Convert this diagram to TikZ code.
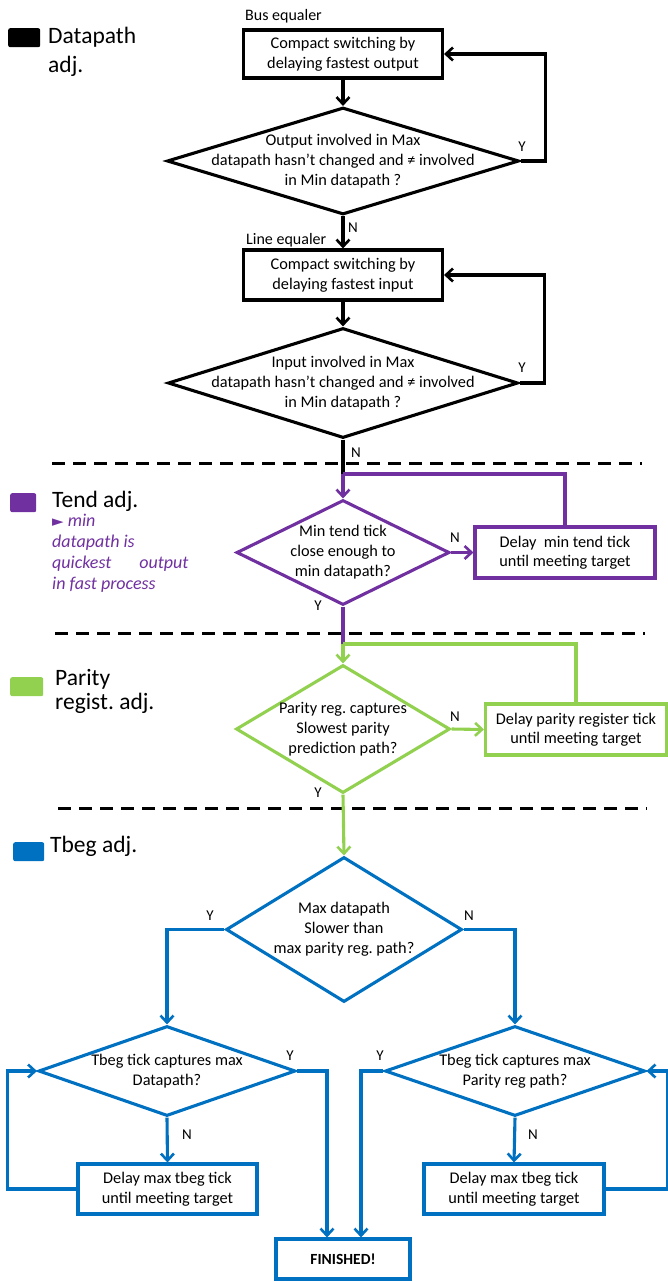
\documentclass[tikz,border=0pt]{standalone}
\usepackage{fontspec}
\setmainfont{Carlito}
\newfontfamily\symbfont{DejaVu Sans}
\usepackage{tikz}
\usetikzlibrary{shapes.geometric, arrows.meta, positioning}
\frenchspacing

\definecolor{tendpurple}{HTML}{7030A0}
\definecolor{paritygreen}{HTML}{92D050}
\definecolor{tbegblue}{HTML}{0070C0}

\begin{document}
\begin{tikzpicture}[
  x=1pt, y=-1pt,
  font=\fontsize{16.3}{19.5}\selectfont,
  box/.style      = {draw=#1, line width=3.1pt, rectangle, align=center, inner sep=0pt},
  decision/.style = {draw=#1, line width=3.1pt, diamond, inner sep=0pt},
  dtext/.style    = {align=center, inner sep=0pt, font=\fontsize{16.3}{20}\selectfont},
  flow/.style     = {draw=#1, line width=3.1pt, -{Straight Barb[length=7pt,width=13pt,line width=2.6pt]}},
  link/.style     = {draw=#1, line width=3.1pt},
  yn/.style       = {font=\fontsize{15}{18}\selectfont, inner sep=0pt},
  key/.style      = {fill=#1, rounded corners=2pt, anchor=north west, inner sep=0pt},
  keytext/.style  = {anchor=north west, align=left, inner sep=0pt, font=\fontsize{23.5}{29}\selectfont},
  sep/.style      = {line width=3pt, dash pattern=on 13pt off 8pt}
]
\useasboundingbox (0,0) rectangle (668,1282);

% ── Legend ────────────────────────────────────────────────────────────────────
\node[key=black, minimum width=32pt, minimum height=19pt] (datakey) at (8,28) {};
\node[keytext] (datalbl) at (48,26.5) {Datapath\\adj.};
\node[key=tendpurple, minimum width=26pt, minimum height=19pt] (tendkey) at (10,493) {};
\node[keytext] (tendlbl) at (52,490.5) {Tend adj.};
\node[anchor=north west, align=left, inner sep=0pt, text=tendpurple,
      font=\fontsize{18}{21}\selectfont\itshape] (tendnote) at (52,514)
  {{\upshape\symbfont\fontsize{15}{21}\selectfont ►} min\\datapath is\\quickest\hspace{28pt}output\\in fast process};
\node[key=paritygreen, minimum width=33pt, minimum height=19pt] (parkey) at (10,677) {};
\node[keytext, font=\fontsize{23.5}{24}\selectfont] (parlbl) at (55,669) {Parity\\regist. adj.};
\node[key=tbegblue, minimum width=31pt, minimum height=19pt] (tbegkey) at (13,842) {};
\node[keytext] (tbeglbl) at (50,836) {Tbeg adj.};

% ── Separators ────────────────────────────────────────────────────────────────
\draw[sep] (52,463) -- (642,463);
\draw[sep] (55,633) -- (645,633);
\draw[sep] (58,808) -- (647,808);

% ── Datapath adj. ─────────────────────────────────────────────────────────────
\node[box=black, minimum width=199pt, minimum height=48pt] (busbox) at (343,54)
  {Compact switching by\\delaying fastest output};
\node[decision=black, minimum width=352pt, minimum height=107pt] (busq) at (343,161) {};
\node[dtext] (busqtxt) at (busq) {Output involved in Max\\datapath hasn’t changed and ≠ involved\\in Min datapath ?};
\node[box=black, minimum width=199pt, minimum height=50pt] (linebox) at (343,275)
  {Compact switching by\\delaying fastest input};
\node[decision=black, minimum width=350pt, minimum height=110pt] (lineq) at (343,383) {};
\node[dtext] (lineqtxt) at (lineq) {Input involved in Max\\datapath hasn’t changed and ≠ involved\\in Min datapath ?};

\node[yn, anchor=base west, font=\fontsize{16}{18}\selectfont] (buslbl) at (245,20) {Bus equaler};
\node[yn, anchor=base west, font=\fontsize{16}{18}\selectfont] (linelbl) at (246,244) {Line equaler};

\draw[flow=black] (busbox) -- (busq);
\draw[flow=black] (busq.east) -- ++(25,0) |- (busbox.east);
\draw[flow=black] (busq.south) -- (linebox.north);
\draw[flow=black] (linebox) -- (lineq);
\draw[flow=black] (lineq.east) -- ++(25,0) |- (linebox.east);

\node[yn] at (522,147) {Y};
\node[yn] at (353,228) {N};
\node[yn] at (522,368) {Y};
\node[yn] at (356,453) {N};

% ── Tend adj. ─────────────────────────────────────────────────────────────────
\coordinate (tendjoin) at (343,474);
\node[decision=tendpurple, minimum width=213pt, minimum height=105pt] (tendq) at (343,552.5) {};
\node[dtext] (tendqtxt) at (tendq) {Min tend tick\\close enough to\\min datapath?};
\node[box=tendpurple, minimum width=180pt, minimum height=51pt] (tendbox) at (565,552.5)
  {Delay\ \ min tend tick\\until meeting target};

\draw[link=black] (lineq.south) -- (tendjoin);
\draw[flow=tendpurple] (tendjoin) -- (tendq.north);
\draw[flow=tendpurple] (tendq.east) -- (tendbox.west);
\draw[link=tendpurple] (tendbox.north) |- (tendjoin);

\node[yn] at (455,538) {N};
\node[yn] at (318,606) {Y};

% ── Parity regist. adj. ───────────────────────────────────────────────────────
\coordinate (parjoin) at (343,644);
\node[decision=paritygreen, minimum width=214pt, minimum height=128pt] (parq) at (343,729) {};
\node[dtext] (parqtxt) at (parq) {Parity reg. captures\\Slowest parity\\prediction path?};
\node[box=paritygreen, minimum width=181pt, minimum height=51pt] (parbox) at (576,729.5)
  {Delay parity register tick\\until meeting target};

\draw[link=tendpurple] (tendq.south) -- (parjoin);
\draw[flow=paritygreen] (parjoin) -- (parq.north);
\draw[flow=paritygreen] (parq.east) -- (parbox.west);
\draw[link=paritygreen] (parbox.north) |- (parjoin);

\node[yn] at (455,717) {N};
\node[yn] at (318,793) {Y};

% ── Tbeg adj. ─────────────────────────────────────────────────────────────────
\node[decision=tbegblue, minimum width=236pt, minimum height=145pt] (maxq) at (344,929.5) {};
\node[dtext] (maxqtxt) at (maxq) {Max datapath\\Slower than\\max parity reg. path?};
\node[decision=tbegblue, minimum width=257pt, minimum height=90pt] (dpq) at (167,1071) {};
\node[dtext] (dpqtxt) at (dpq) {Tbeg tick captures max\\Datapath?};
\node[decision=tbegblue, minimum width=260pt, minimum height=90pt] (ppq) at (515,1071) {};
\node[dtext] (ppqtxt) at (ppq) {Tbeg tick captures max\\Parity reg path?};
\node[box=tbegblue, minimum width=179pt, minimum height=50pt] (dpbox) at (167.5,1189)
  {Delay max tbeg tick\\until meeting target};
\node[box=tbegblue, minimum width=180pt, minimum height=50pt] (ppbox) at (514,1189)
  {Delay max tbeg tick\\until meeting target};
\node[box=tbegblue, minimum width=134pt, minimum height=40pt, font=\fontsize{15.5}{18}\selectfont\bfseries] (fin) at (343,1259) {FINISHED!};

\draw[flow=paritygreen] (parq.south) -- (maxq.north);
\draw[flow=tbegblue] (maxq.west) -| (dpq.north);
\draw[flow=tbegblue] (maxq.east) -| (ppq.north);
\draw[flow=tbegblue] (dpq.south) -- (dpbox.north);
\draw[flow=tbegblue] (ppq.south) -- (ppbox.north);
\draw[flow=tbegblue] (dpbox.west) -- ++(-69,0) |- (dpq.west);
\draw[flow=tbegblue] (ppbox.east) -- ++(62,0) |- (ppq.east);
\draw[flow=tbegblue] (dpq.east) -| ([xshift=-16pt]fin.north);
\draw[flow=tbegblue] (ppq.west) -| ([xshift=18pt]fin.north);

\node[yn] at (210,916) {Y};
\node[yn] at (469,916) {N};
\node[yn] at (290,1056) {Y};
\node[yn] at (187,1135) {N};
\node[yn] at (380,1056) {Y};
\node[yn] at (533,1135) {N};

\end{tikzpicture}
\end{document}
